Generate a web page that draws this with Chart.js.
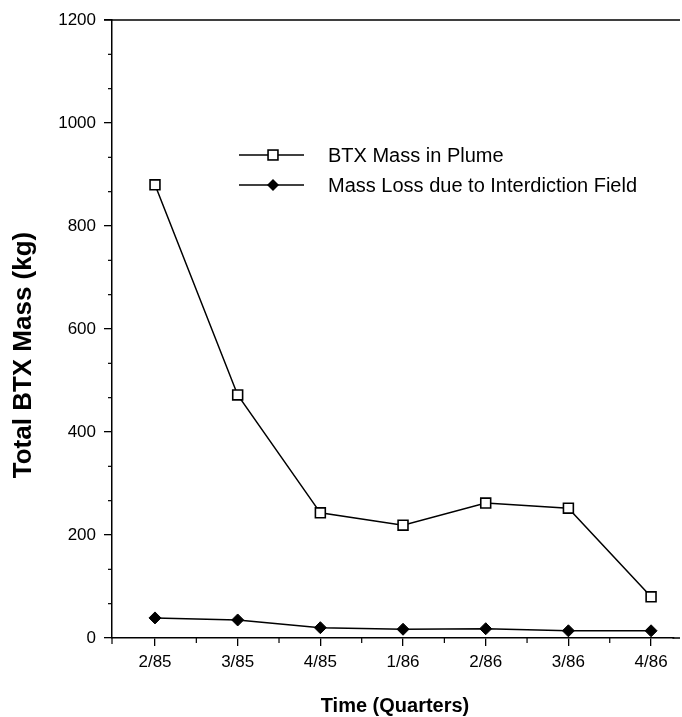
<!DOCTYPE html>
<html>
<head>
<meta charset="utf-8">
<script src="https://cdn.jsdelivr.net/npm/chart.js@4"></script>
<style>
  html, body { margin: 0; padding: 0; background: #fff; }
  #wrap { width: 682px; height: 717px; }
</style>
</head>
<body>
<div id="wrap"><canvas id="myChart" width="682" height="717"></canvas></div>
<script>
const quarters = ['2/85', '3/85', '4/85', '1/86', '2/86', '3/86', '4/86'];
const btxMass = [880, 472, 243, 219, 262, 252, 80];
const massLoss = [39, 35, 20, 17, 18, 14, 14];
const yTicks = [0, 200, 400, 600, 800, 1000, 1200];

const FONT = '"Liberation Sans", Arial, Helvetica, sans-serif';

// extra ticks, frame lines, axis titles and the legend box
const decorations = {
  id: 'decorations',
  afterDraw(chart) {
    const ctx = chart.ctx;
    const area = chart.chartArea;
    const x = chart.scales.x;
    const y = chart.scales.y;
    const edge = chart.width - 2;
    ctx.save();
    ctx.strokeStyle = '#000';
    ctx.lineWidth = 1.5;

    // top frame, and the x axis running out to the edge
    ctx.beginPath();
    ctx.moveTo(area.left - 8, area.top);
    ctx.lineTo(edge, area.top);
    ctx.moveTo(area.right - 1, area.bottom);
    ctx.lineTo(edge, area.bottom);
    ctx.stroke();

    // minor y ticks (thirds between labels)
    ctx.lineWidth = 1.2;
    for (let i = 0; i < yTicks.length - 1; i++) {
      const step = (yTicks[i + 1] - yTicks[i]) / 3;
      for (let k = 1; k < 3; k++) {
        const py = y.getPixelForValue(yTicks[i] + step * k);
        ctx.beginPath();
        ctx.moveTo(area.left - 4, py);
        ctx.lineTo(area.left, py);
        ctx.stroke();
      }
    }
    // minor x ticks (between quarters)
    for (let i = 0; i < quarters.length - 1; i++) {
      const px = x.getPixelForValue(i + 0.5);
      ctx.beginPath();
      ctx.moveTo(px, area.bottom);
      ctx.lineTo(px, area.bottom + 5);
      ctx.stroke();
    }
    // origin cross
    ctx.beginPath();
    ctx.moveTo(area.left, area.bottom);
    ctx.lineTo(area.left, area.bottom + 6);
    ctx.stroke();

    // axis titles
    ctx.fillStyle = '#000';
    ctx.textAlign = 'center';
    ctx.textBaseline = 'middle';
    ctx.font = 'bold 20px ' + FONT;
    ctx.fillText('Time (Quarters)', 395, 706);
    ctx.save();
    ctx.translate(24, 355);
    ctx.rotate(-Math.PI / 2);
    ctx.font = 'bold 26px ' + FONT;
    ctx.fillText('Total BTX Mass (kg)', 0, 0);
    ctx.restore();

    // legend
    ctx.font = '20px ' + FONT;
    ctx.textAlign = 'left';
    const rows = [155, 185];
    chart.data.datasets.forEach((ds, i) => {
      const ly = rows[i];
      ctx.strokeStyle = '#000';
      ctx.lineWidth = 1.3;
      ctx.beginPath();
      ctx.moveTo(239, ly);
      ctx.lineTo(304, ly);
      ctx.stroke();
      const r = ds.pointRadius;
      ctx.lineWidth = ds.pointBorderWidth;
      ctx.fillStyle = ds.pointBackgroundColor;
      if (ds.pointStyle === 'rect') {
        const h = r * Math.SQRT1_2;
        ctx.fillRect(273 - h, ly - h, h * 2, h * 2);
        ctx.strokeRect(273 - h, ly - h, h * 2, h * 2);
      } else {
        ctx.beginPath();
        ctx.moveTo(273, ly - r);
        ctx.lineTo(273 + r, ly);
        ctx.lineTo(273, ly + r);
        ctx.lineTo(273 - r, ly);
        ctx.closePath();
        ctx.fill();
      }
      ctx.fillStyle = '#000';
      ctx.fillText(ds.label, 328, ly + 1);
    });
    ctx.restore();
  }
};

const ctx = document.getElementById('myChart').getContext('2d');

const chart = new Chart(ctx, {
  type: 'line',
  data: {
    datasets: [
      {
        label: 'BTX Mass in Plume',
        data: btxMass.map((v, i) => ({ x: i, y: v })),
        borderColor: '#000',
        borderWidth: 1.5,
        pointStyle: 'rect',
        pointRadius: 7,
        pointBorderWidth: 1.6,
        pointBackgroundColor: '#fff',
        pointBorderColor: '#000',
        tension: 0
      },
      {
        label: 'Mass Loss due to Interdiction Field',
        data: massLoss.map((v, i) => ({ x: i, y: v })),
        borderColor: '#000',
        borderWidth: 1.5,
        pointStyle: 'rectRot',
        pointRadius: 6,
        pointBorderWidth: 1,
        pointBackgroundColor: '#000',
        pointBorderColor: '#000',
        tension: 0
      }
    ]
  },
  options: {
    responsive: false,
    animation: false,
    layout: { padding: { top: 20, right: 0, left: 0, bottom: 0 } },
    plugins: {
      legend: { display: false },
      tooltip: { enabled: false }
    },
    scales: {
      x: {
        type: 'linear',
        min: -0.52,
        max: 6.27,
        afterFit: s => { s.height = 79; s.paddingRight = 0; s.paddingLeft = 0; },
        afterBuildTicks: s => { s.ticks = quarters.map((q, i) => ({ value: i })); },
        ticks: {
          color: '#000',
          font: { family: FONT, size: 17 },
          padding: 6,
          maxRotation: 0,
          callback: v => quarters[v]
        },
        grid: { drawOnChartArea: false, color: '#000', lineWidth: 1.3, tickLength: 8 },
        border: { display: true, color: '#000', width: 1.5 }
      },
      y: {
        min: 0,
        max: 1200,
        afterFit: s => { s.width = 112; s.paddingTop = 0; s.paddingBottom = 0; },
        afterBuildTicks: s => { s.ticks = yTicks.map(v => ({ value: v })); },
        ticks: {
          color: '#000',
          font: { family: FONT, size: 17 },
          padding: 8,
          callback: v => String(v)
        },
        grid: { drawOnChartArea: false, color: '#000', lineWidth: 1.3, tickLength: 8 },
        border: { display: true, color: '#000', width: 1.5 }
      }
    }
  },
  plugins: [decorations]
});
</script>
</body>
</html>
